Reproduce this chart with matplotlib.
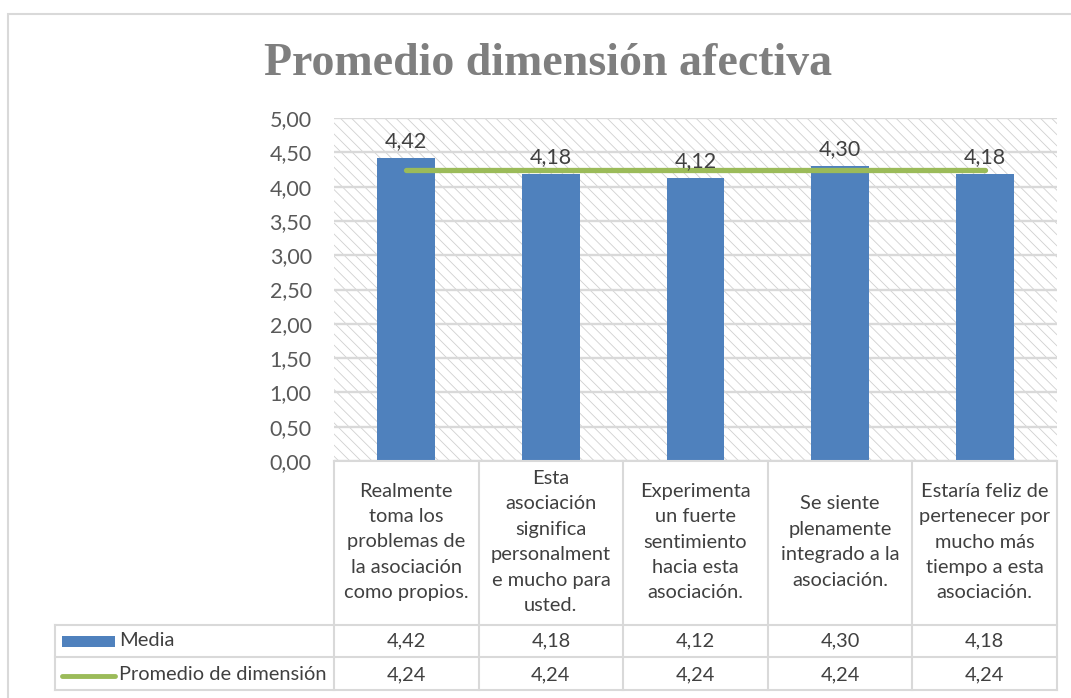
import matplotlib.pyplot as plt
from matplotlib.patches import Rectangle
from matplotlib.lines import Line2D
import matplotlib.transforms as mtransforms

categorias = ['Realmente\ntoma los\nproblemas de\nla asociación\ncomo propios.',
              'Esta\nasociación\nsignifica\npersonalment\ne mucho para\nusted.',
              'Experimenta\nun fuerte\nsentimiento\nhacia esta\nasociación.',
              'Se siente\nplenamente\nintegrado a la\nasociación.',
              'Estaría feliz de\npertenecer por\nmucho más\ntiempo a esta\nasociación.']
media = [4.42, 4.18, 4.12, 4.30, 4.18]
promedio = [4.24, 4.24, 4.24, 4.24, 4.24]
yticks = [0, 0.5, 1, 1.5, 2, 2.5, 3, 3.5, 4, 4.5, 5]

def fmt(v):
    return f'{v:.2f}'.replace('.', ',')

plt.rcParams['font.family'] = ['Lato', 'DejaVu Sans']
plt.rcParams['hatch.linewidth'] = 0.6

W, H = 1071, 698
fig = plt.figure(figsize=(W / 100, H / 100), dpi=100)

# marco del grafico
fig.patches.append(Rectangle((8 / W, -0.1), 1.2, 1 - 14 / H + 0.1, transform=fig.transFigure,
                             facecolor='none', edgecolor='#D9D9D9', lw=1.5))

x0, x1, ytop, ybot = 334, 1057, 118, 461
ax = fig.add_axes([x0 / W, 1 - ybot / H, (x1 - x0) / W, (ybot - ytop) / H])
ax.set_xlim(-0.5, len(categorias) - 0.5)
ax.set_ylim(0, 5)
for s in ax.spines.values():
    s.set_visible(False)

# fondo rayado
ax.add_patch(Rectangle((0, 0), 1, 1, transform=ax.transAxes, facecolor='white',
                       edgecolor='#D0D0D0', hatch='\\\\\\', lw=0, zorder=0))
for y in yticks:
    ax.axhline(y, color='#D9D9D9', lw=1.7, zorder=1)

xs = list(range(len(categorias)))
barras = ax.bar(xs, media, width=0.4, color='#4F81BD', zorder=2)
ax.plot(xs, promedio, color='#9BBB59', lw=3.8, solid_capstyle='round', zorder=3)
for x, v in zip(xs, media):
    ax.annotate(fmt(v), (x, v), xytext=(0, 5), textcoords='offset points',
                ha='center', va='bottom', fontsize=15.5, color='#404040')

ax.set_yticks(yticks)
ax.set_yticklabels([fmt(v) for v in yticks], fontsize=15.5, color='#595959')
ax.tick_params(axis='y', length=0, pad=16)
ax.set_xticks([])

fig.text(548 / W, 1 - 64 / H, 'Promedio dimensión afectiva', ha='center', va='center',
         fontsize=33, fontweight='bold', color='#7F7F7F', family='Liberation Serif')

# tabla de datos
alto = ybot - ytop
def fy(py):
    return (ybot - py) / alto

trans = mtransforms.blended_transform_factory(ax.transData, ax.transAxes)
gris = '#D9D9D9'
leg_x = (55 - x0) / (x1 - x0)
for b in range(len(categorias) + 1):
    ax.add_line(Line2D([b - 0.5, b - 0.5], [fy(461), fy(690)], transform=trans,
                       color=gris, lw=1.5, clip_on=False))
ax.add_line(Line2D([0, 1], [fy(461), fy(461)], transform=ax.transAxes,
                   color=gris, lw=1.5, clip_on=False))
for py in [625, 657, 690]:
    ax.add_line(Line2D([leg_x, 1], [fy(py), fy(py)], transform=ax.transAxes,
                       color=gris, lw=1.5, clip_on=False))
ax.add_line(Line2D([leg_x, leg_x], [fy(625), fy(690)], transform=ax.transAxes,
                   color=gris, lw=1.5, clip_on=False))

for x, cat, m, p in zip(xs, categorias, media, promedio):
    ax.text(x, fy(542), cat, transform=trans, ha='center', va='center',
            fontsize=14.4, color='#404040', linespacing=1.6, clip_on=False)
    ax.text(x, fy(641), fmt(m), transform=trans, ha='center', va='center',
            fontsize=14.4, color='#404040', clip_on=False)
    ax.text(x, fy(675), fmt(p), transform=trans, ha='center', va='center',
            fontsize=14.4, color='#404040', clip_on=False)

# leyenda dentro de la tabla
lx0 = (62 - x0) / (x1 - x0)
lx1 = (115 - x0) / (x1 - x0)
ax.add_patch(Rectangle((lx0, fy(647)), lx1 - lx0, fy(636) - fy(647), transform=ax.transAxes,
                       facecolor='#4F81BD', edgecolor='none', clip_on=False))
ax.add_line(Line2D([lx0, lx1], [fy(676), fy(676)], transform=ax.transAxes,
                   color='#9BBB59', lw=3.5, solid_capstyle='round', clip_on=False))
tx = (119 - x0) / (x1 - x0)
ax.text(tx, fy(641), 'Media', transform=ax.transAxes, ha='left', va='center',
        fontsize=14.4, color='#404040', clip_on=False)
ax.text(tx, fy(675), 'Promedio de dimensión', transform=ax.transAxes, ha='left', va='center',
        fontsize=14.4, color='#404040', clip_on=False)

fig.savefig('out.png', dpi=100)
